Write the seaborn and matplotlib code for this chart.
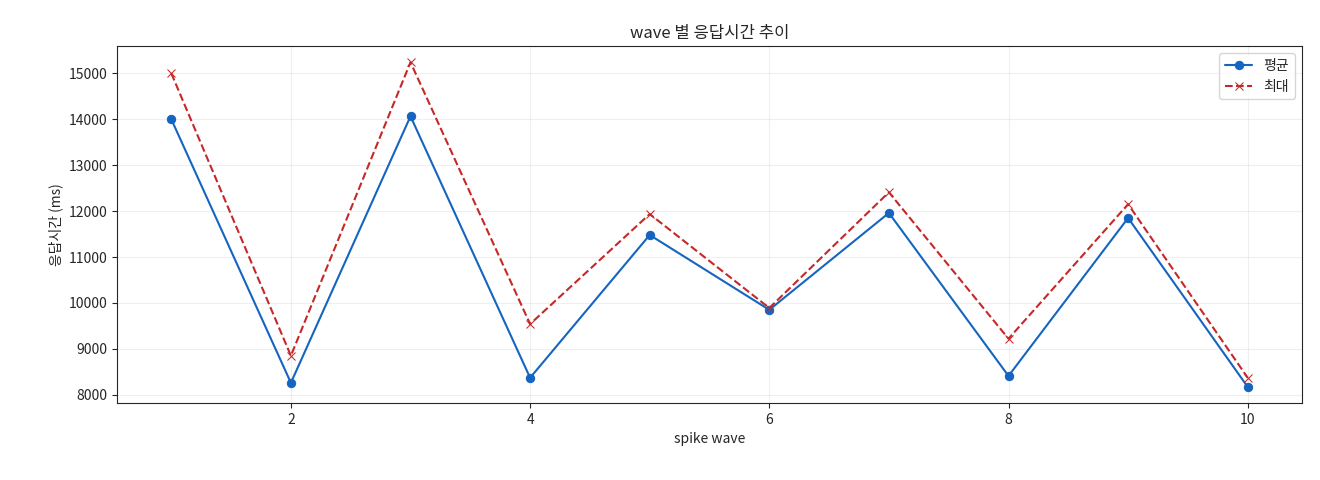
import matplotlib
matplotlib.use("Agg")
import matplotlib.pyplot as plt
import seaborn as sns
import pandas as pd

waves = [1, 2, 3, 4, 5, 6, 7, 8, 9, 10]
avg_ms = [14000, 8260, 14065, 8370, 11480, 9850, 11960, 8410, 11850, 8170]
max_ms = [15000, 8850, 15240, 9540, 11935, 9890, 12410, 9220, 12150, 8370]

sns.set_style("ticks")
plt.rcParams['font.family'] = ['Noto Sans CJK KR', 'DejaVu Sans']

df = pd.DataFrame({"wave": waves, "avg": avg_ms, "max": max_ms})

fig, ax = plt.subplots(figsize=(13.2, 4.8), dpi=100)
sns.lineplot(data=df, x="wave", y="avg", marker="o", color="#1565c0",
             markeredgecolor="#1565c0", markersize=6, label="평균", ax=ax)
sns.lineplot(data=df, x="wave", y="max", marker="x", color="#c62828",
             markeredgecolor="#c62828", linestyle="--", markersize=6, label="최대", ax=ax)
ax.set_title("wave 별 응답시간 추이")
ax.set_xlabel("spike wave")
ax.set_ylabel("응답시간 (ms)")
ax.grid(True, alpha=0.3)
ax.legend(loc="upper right")
fig.subplots_adjust(left=0.089, right=0.986, top=0.904, bottom=0.16)
fig.savefig("out.png", dpi=100)
